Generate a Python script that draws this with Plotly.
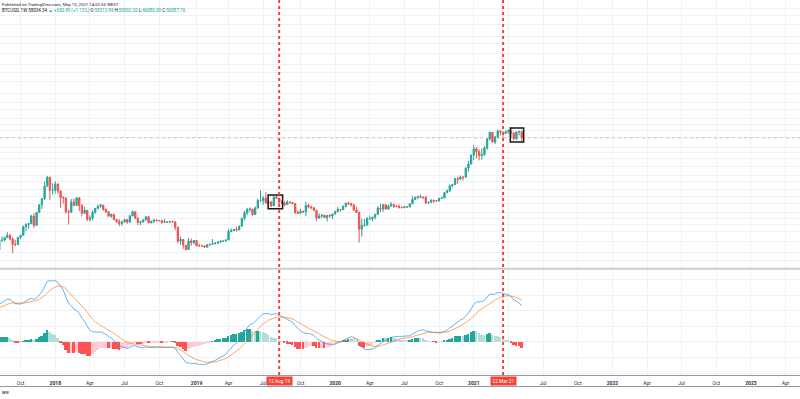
import numpy as np
import pandas as pd
import plotly.graph_objects as go

# ---------------- data (weekly BTCUSD, Monday-start weeks) ----------------
# closes before the visible window (weeks from 2016-07-04), used for MACD warm-up
warmup_start = "2016-07-04"
warmup_close = [650, 680, 660, 625, 590, 570, 582, 575, 610, 607, 610, 603, 612,
                617, 640, 655, 700, 712, 704, 730, 735, 764, 770, 790, 893, 998,
                905, 820, 920, 915, 1020, 995, 1055, 1180, 1270, 1230, 1020, 970,
                1090, 1190, 1180, 1245, 1350, 1550, 1760, 2050, 2170, 2520, 2950,
                2550, 2500, 2500, 2500, 1930, 2750, 2750, 3230]

# visible weeks from 2017-08-07
high_2017 = [4190, 4480, 4450, 4980, 4790, 4380, 4120, 4400, 4640, 5860, 6180, 6170,
             7600, 7880, 8100, 9780, 11400, 17200, 19700, 19200, 16500]
low_2017 = [3200, 3950, 3970, 4310, 4080, 2970, 3520, 3680, 4170, 4560, 5100, 5400,
            6050, 5500, 5850, 7950, 8800, 11000, 15200, 11000, 12500]
close_2017 = [4070, 4090, 4350, 4590, 4200, 3690, 3660, 4370, 4610, 5680, 6000, 6140,
              7360, 5860, 8050, 9720, 11250, 15300, 19100, 13800, 13900]

high_2018 = [17200, 16300, 13800, 12000, 11700, 8700, 11200, 11300, 11700, 11700, 9900,
             9200, 8500, 7500, 8400, 9000, 9750, 9950, 9650, 8900, 8400, 7800, 7770,
             6900, 6850, 6600, 6850, 6800, 7600, 8500, 8250, 7150, 6600, 6900, 7300,
             7400, 6600, 6800, 6700, 6700, 6700, 6850, 6500, 6500, 6600, 6500, 5700,
             4450, 4200, 3650, 4300, 4250, 4100]
low_2018 = [12800, 12600, 9000, 10000, 7800, 6000, 8000, 9300, 9400, 8300, 7300, 7800,
            6500, 6450, 6600, 7800, 8650, 8950, 8350, 7950, 7250, 7050, 6650, 6250,
            5750, 5800, 6350, 6100, 6300, 7350, 6900, 5900, 5900, 6250, 6650, 6150,
            6150, 6200, 6400, 6450, 6100, 6300, 6350, 6250, 6350, 5200, 3800, 3650,
            3300, 3150, 3250, 3550, 3650]
close_2018 = [16200, 13600, 11600, 11500, 8200, 8100, 10400, 9600, 11500, 9500, 7900,
              8500, 6800, 7000, 8100, 8900, 9400, 9650, 8700, 8200, 7350, 7700, 6780,
              6450, 6150, 6380, 6750, 6350, 7400, 8200, 7000, 6300, 6400, 6700, 7250,
              6250, 6500, 6700, 6620, 6600, 6300, 6400, 6350, 6450, 6380, 5600, 4000,
              4150, 3600, 3250, 4000, 3850, 4050]

high_2019 = [4100, 3750, 3650, 3600, 3700, 3720, 4200, 3900, 3920, 4000, 4050, 4150,
             5350, 5450, 5400, 5650, 5850, 7050, 8350, 8950, 9100, 8800, 9350, 11250,
             13850, 12000, 13200, 11000, 10650, 11950, 12300, 11500, 10950, 10650,
             10900, 10450, 10350, 10050, 8500, 8800, 8400, 10500, 9950, 9500, 9100,
             8500, 7900, 7750, 7650, 7500, 7700, 7800]
low_2019 = [3550, 3500, 3500, 3350, 3400, 3550, 3650, 3700, 3700, 3800, 3950, 3950,
            4100, 4950, 5100, 5050, 5200, 5700, 6600, 7550, 8100, 7450, 7600, 8950,
            10400, 9700, 9900, 9100, 9200, 9400, 11200, 9450, 9900, 9350, 9750, 9900,
            9850, 7750, 7800, 7800, 7900, 7350, 8900, 8700, 8350, 6550, 6850, 7050,
            7050, 6450, 7050, 6850]
close_2019 = [3550, 3550, 3550, 3450, 3650, 3700, 3750, 3800, 3900, 4000, 4000, 4100,
              5050, 5150, 5300, 5250, 5750, 7000, 8000, 8700, 8750, 7650, 8950, 10800,
              10800, 11450, 10200, 10350, 9500, 11800, 11300, 10250, 10150, 9750,
              10400, 10300, 10000, 8050, 7900, 8300, 8200, 9550, 9200, 9050, 8500,
              7050, 7400, 7500, 7100, 7500, 7400, 7750]

high_2020 = [8450, 9200, 8750, 9600, 10150, 10500, 10250, 9950, 9200, 8200, 6900, 6850,
             7200, 7450, 7300, 7750, 9450, 10000, 9900, 9850, 9750, 10400, 10000, 9650,
             9800, 9300, 9450, 9300, 9950, 12100, 11800, 12100, 12450, 11750, 12100,
             10550, 11100, 10950, 10950, 11500, 11750, 13350, 14100, 15950, 16200,
             18800, 19450, 19900, 19400, 24300, 28400, 33300]
low_2020 = [7700, 8100, 8250, 8550, 9100, 9700, 9350, 8400, 8000, 3850, 4450, 5700,
            5850, 6750, 6500, 6800, 7650, 8150, 8200, 8650, 8650, 9300, 9000, 9200,
            8850, 8950, 9050, 9000, 9150, 9900, 10950, 11150, 11400, 11150, 9850, 9900,
            10200, 10150, 10400, 10550, 11200, 11400, 12950, 13300, 14850, 15800,
            16200, 18100, 17600, 19000, 21850, 26050]
close_2020 = [8180, 8700, 8600, 9350, 10150, 9900, 9650, 8550, 8050, 5350, 5850, 5900,
              6900, 6900, 7150, 7700, 8900, 8750, 9700, 8750, 9450, 9750, 9350, 9300,
              9100, 9050, 9250, 9200, 9950, 11050, 11700, 11900, 11650, 11700, 10250,
              10300, 10900, 10750, 10650, 11400, 11500, 13050, 13750, 15450, 15950,
              18400, 18200, 19150, 19100, 23850, 26400, 32700]

high_2021 = [41950, 40100, 37850, 38500, 40950, 49700, 58350, 57500, 52650, 61800,
             60600, 58400, 60000, 61400, 64900, 57500, 58450, 59500, 59600]
low_2021 = [29000, 30300, 28850, 29250, 32300, 37400, 47050, 44900, 43000, 49300,
            53250, 50300, 55300, 55500, 50900, 47050, 47100, 53000, 46080]
close_2021 = [38200, 35800, 32250, 33100, 38900, 48600, 57400, 45150, 51200, 59000,
              57400, 55800, 58200, 59800, 56200, 49100, 57800, 58250, 50090]

marked_dates = ["2019-08-12", "2021-03-22"]
marked_labels = ["12 Aug 19", "22 Mar 21"]
box_dates = [("2019-07-14", "2019-08-21"), ("2021-04-10", "2021-05-15")]
box_prices = [(8800, 12350), (45200, 63700)]

header_1 = "Published on TradingView.com, May 13, 2021 14:02:55 WEST"
symbol = "BTCUSD, 1W"
last_info = ("58034.34", "▲ +650.89 (+1.12%)")
ohlc_info = [("O:", "58313.84"), ("H:", "59592.20"), ("L:", "46080.00"), ("C:", "50087.76")]

# ---------------- assemble ----------------
high = high_2017 + high_2018 + high_2019 + high_2020 + high_2021
low = low_2017 + low_2018 + low_2019 + low_2020 + low_2021
close_vis = close_2017 + close_2018 + close_2019 + close_2020 + close_2021
all_close = warmup_close + close_vis
all_dates = pd.date_range(warmup_start, periods=len(all_close), freq="7D")
nw = len(warmup_close)
dates = all_dates[nw:]
opens = all_close[nw - 1:-1]

# MACD (12, 26, 9) computed on log price
lc = pd.Series(np.log(np.array(all_close, dtype=float)))
macd = lc.ewm(span=12, adjust=False).mean() - lc.ewm(span=26, adjust=False).mean()
sig = macd.ewm(span=9, adjust=False).mean()
hist = macd - sig
hv = hist.values
hcols = []
for i in range(nw, len(hv)):
    if hv[i] >= 0:
        hcols.append("#26A69A" if hv[i] > hv[i - 1] else "#B2DFDB")
    else:
        hcols.append("#FFCDD2" if hv[i] > hv[i - 1] else "#FF5252")
m_v, s_v, h_v = macd.values[nw:], sig.values[nw:], hv[nw:]

# ---------------- figure ----------------
H_PLOT = 375.0
def py(px):
    return 1 - px / H_PLOT

FONT = "Roboto, Liberation Sans, sans-serif"
GRID = "#eef1f6"
UP, DN = "#26a69a", "#ef5350"

fig = go.Figure()
fig.add_trace(go.Candlestick(
    x=dates, open=opens, high=high, low=low, close=close_vis,
    increasing=dict(line=dict(color=UP, width=1), fillcolor=UP),
    decreasing=dict(line=dict(color=DN, width=1), fillcolor=DN),
    whiskerwidth=0, hoverinfo="skip", xaxis="x", yaxis="y", showlegend=False))

fig.add_trace(go.Bar(x=dates, y=h_v, marker=dict(color=hcols, line=dict(width=0)),
                     width=7 * 24 * 3600 * 1000 * 0.72, xaxis="x2", yaxis="y2",
                     showlegend=False, hoverinfo="skip"))
fig.add_trace(go.Scatter(x=dates, y=m_v, mode="lines", line=dict(color="#2196F3", width=1),
                         opacity=0.7, xaxis="x2", yaxis="y2", showlegend=False, hoverinfo="skip"))
fig.add_trace(go.Scatter(x=dates, y=s_v, mode="lines", line=dict(color="#FF6D00", width=1),
                         opacity=0.6, xaxis="x2", yaxis="y2", showlegend=False, hoverinfo="skip"))

# time axis ticks: first weekly bar of each quarter month
qs = pd.date_range("2017-10-01", "2023-04-01", freq="QS-JAN")
marked_ts = [pd.Timestamp(d) for d in marked_dates]
tickvals, ticktext = [], []
for d in qs:
    fm = d + pd.Timedelta(days=(7 - d.weekday()) % 7)
    tickvals.append(fm)
    hidden = any(abs((fm - m).days) < 25 for m in marked_ts)   # covered by the red date tag
    ticktext.append("" if hidden else ("<b>%d</b>" % d.year if d.month == 1 else d.strftime("%b")))

xr = ["2017-08-08 21:00", "2023-05-10 17:00"]

lo = min(m_v.min(), s_v.min(), h_v.min())
hi = max(m_v.max(), s_v.max(), h_v.max())
pad = 0.125 * (hi - lo)
r2 = [lo - pad, hi + pad]
step2 = (r2[1] - r2[0]) * 15.6 / 105

price_grid = [2000, 2500, 3000, 4000, 5000, 6000, 7000, 8000, 10000, 12000, 14000, 17000,
              20000, 25000, 30000, 35000, 40000, 50000, 60000, 70000, 80000, 100000,
              120000, 150000, 200000, 250000, 300000, 400000, 500000, 600000, 800000,
              1000000, 1200000]

fig.update_layout(
    width=800, height=399, margin=dict(l=0, r=0, t=0, b=24),
    paper_bgcolor="white", plot_bgcolor="white",
    font=dict(family=FONT, color="#131722"),
    xaxis=dict(domain=[0, 1], anchor="y", range=xr, matches="x2", showticklabels=False,
               tickvals=tickvals, showgrid=True, gridcolor=GRID, gridwidth=1,
               zeroline=False, rangeslider=dict(visible=False), fixedrange=True),
    yaxis=dict(domain=[py(268), 1], type="log", range=[3.315, 6.166], showticklabels=False,
               tickvals=price_grid, showgrid=True, gridcolor=GRID, zeroline=False),
    xaxis2=dict(domain=[0, 1], anchor="y2", range=xr, tickvals=tickvals, ticktext=ticktext,
                showgrid=True, gridcolor=GRID, zeroline=False, ticks="",
                tickfont=dict(size=5, color="#2a2e39"), ticklabelstandoff=3,
                showline=True, linecolor="#9598a1", linewidth=1),
    yaxis2=dict(domain=[0, py(270)], range=r2, showticklabels=False, tick0=0, dtick=step2,
                showgrid=True, gridcolor=GRID, zeroline=False),
    bargap=0,
)

shapes = []
# pane separator
shapes.append(dict(type="line", xref="paper", yref="paper", x0=0, x1=1, y0=py(268.8), y1=py(268.8),
                   line=dict(color="#c9ccd3", width=2)))
# footer line
shapes.append(dict(type="line", xref="paper", yref="paper", x0=0, x1=1, y0=py(386.5), y1=py(386.5),
                   line=dict(color="#9598a1", width=1)))
# last price line
shapes.append(dict(type="line", xref="paper", yref="y", x0=0, x1=1, y0=close_vis[-1], y1=close_vis[-1],
                   line=dict(color="rgba(239,83,80,0.4)", width=1, dash="dot")))
for (d0, d1), (p0, p1) in zip(box_dates, box_prices):
    shapes.append(dict(type="rect", xref="x", yref="y", x0=d0, x1=d1, y0=p0, y1=p1,
                       line=dict(color="#131722", width=1.5), fillcolor="rgba(0,0,0,0)"))
for d in marked_dates:
    shapes.append(dict(type="line", xref="x", yref="paper", x0=d, x1=d, y0=0, y1=1,
                       line=dict(color="#f44336", width=2, dash="dot")))
fig.update_layout(shapes=shapes)

ann = []
ann.append(dict(text=header_1, xref="paper", yref="paper", x=0.0, y=py(4.3), xanchor="left",
                yanchor="middle", showarrow=False, font=dict(size=4.3, color="#131722")))
line2 = (symbol + " " + last_info[0] + " <span style='color:%s'>%s</span>" % (UP, last_info[1]) +
         "".join(" %s<span style='color:%s'>%s</span>" % (k, UP, v) for k, v in ohlc_info))
ann.append(dict(text=line2, xref="paper", yref="paper", x=0.0, y=py(10.4), xanchor="left",
                yanchor="middle", showarrow=False, font=dict(size=4.5, color="#131722")))
for d, lab in zip(marked_dates, marked_labels):
    ann.append(dict(text=lab, xref="x2", yref="paper", x=d, y=py(381), xanchor="center",
                    yanchor="middle", showarrow=False, bgcolor="#f44336", borderpad=1.5,
                    font=dict(size=4.8, color="white")))
ann.append(dict(text="iew", xref="paper", yref="paper", x=0.0, y=py(392.5), xanchor="left",
                yanchor="middle", showarrow=False, font=dict(size=4.5, color="#131722")))
fig.update_layout(annotations=ann)

fig.write_html("out.html", config={"displayModeBar": False},
               post_script="document.body.style.margin='0';document.body.style.overflow='hidden';")
